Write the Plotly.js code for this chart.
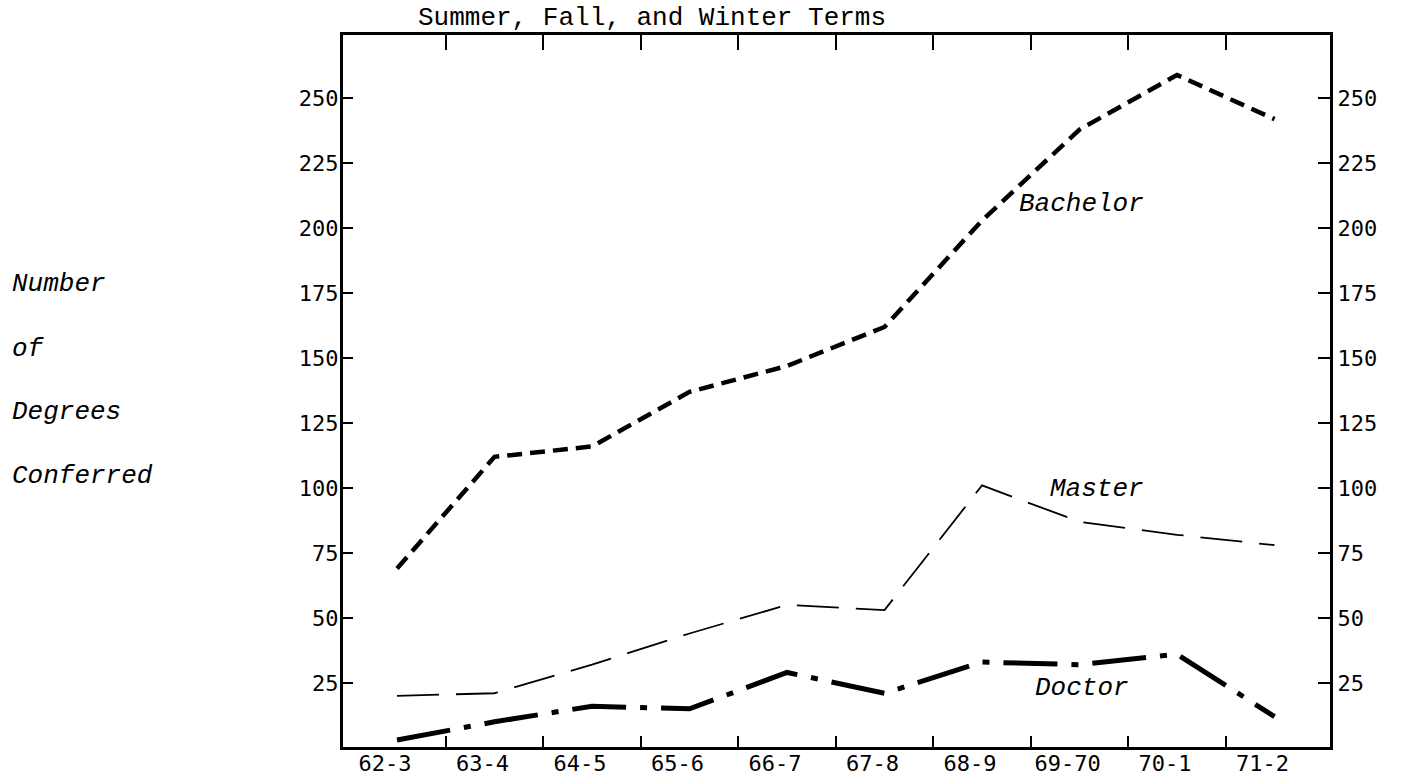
<!DOCTYPE html>
<html><head><meta charset="utf-8">
<script src="https://cdn.plot.ly/plotly-3.0.1.min.js"></script>
<style>html,body{margin:0;padding:0;background:#fff;} #chart{width:1404px;height:779px;}</style>
</head><body><div id="chart"></div>
<script>
// ---- data ----
const categories = ['62-3','63-4','64-5','65-6','66-7','67-8','68-9','69-70','70-1','71-2'];
const bachelor = [69, 112, 116, 137, 147, 162, 203, 238, 259, 242];
const master   = [20, 21, 32, 44, 55, 53, 101, 87, 82, 78];
const doctor   = [3, 10, 16, 15, 29, 21, 33, 32, 36, 12];
const yTickValues = [25, 50, 75, 100, 125, 150, 175, 200, 225, 250];
const seriesNames = ['Bachelor', 'Master', 'Doctor'];
const chartTitle = 'Summer, Fall, and Winter Terms';
const yLabelLines = ['Number', 'of', 'Degrees', 'Conferred'];

// ---- layout ----
const W = 1404, H = 779;
const M = {l: 343, r: 74, t: 35, b: 32};
const xIdx = categories.map((c, i) => i);
const boundaries = categories.slice(1).map((c, i) => i + 0.5);
const xRange = [-0.554, 9.569];
const yRange = [0.3, 274.4];
const mono = 'Liberation Mono, Courier New, monospace';
const tickFont = {family: 'DejaVu Sans Mono, monospace', size: 22, color: '#000'};
const labelFont = {family: mono, size: 26, color: '#000', style: 'italic'};

// Each axis pair shares identical ranges, so the series are placed on
// different (overlaid) axes only so every axis gets drawn with its ticks.
const traces = [
  {x: xIdx, y: bachelor, name: seriesNames[0], mode: 'lines', xaxis: 'x', yaxis: 'y',
   line: {color: '#000', width: 4.5, dash: '15px,8px'}},
  {x: xIdx, y: master, name: seriesNames[1], mode: 'lines', xaxis: 'x2', yaxis: 'y',
   line: {color: '#000', width: 1.8, dash: '42px,17px'}},
  {x: xIdx, y: doctor, name: seriesNames[2], mode: 'lines', xaxis: 'x', yaxis: 'y2',
   line: {color: '#000', width: 5, dash: '54px,14px,7px,14px'}}
];

const pw = W - M.l - M.r, ph = H - M.t - M.b;
const px2paperX = px => (px - M.l) / pw;
const px2paperY = py => (H - M.b - py) / ph;

const annotations = [
  {text: seriesNames[0], x: 6.36, y: 209.5, xref: 'x', yref: 'y', xanchor: 'left', yanchor: 'middle'},
  {text: seriesNames[1], x: 6.68, y: 99.5, xref: 'x', yref: 'y', xanchor: 'left', yanchor: 'middle'},
  {text: seriesNames[2], x: 6.52, y: 23, xref: 'x', yref: 'y', xanchor: 'left', yanchor: 'middle'}
].map(a => Object.assign(a, {showarrow: false, font: labelFont}));

const yLabelCenters = [284, 349, 412, 476];
yLabelLines.forEach((t, i) => annotations.push({
  text: t, xref: 'paper', yref: 'paper', x: px2paperX(10), y: px2paperY(yLabelCenters[i]),
  xanchor: 'left', yanchor: 'middle', showarrow: false, font: labelFont
}));

const layout = {
  width: W, height: H, margin: M, showlegend: false,
  paper_bgcolor: '#fff', plot_bgcolor: '#fff',
  title: {text: chartTitle, xref: 'container', yref: 'container',
          x: 418 / W, xanchor: 'left', y: 1 - 16 / H, yanchor: 'middle',
          font: {family: mono, size: 26, color: '#000'}},
  xaxis: {range: xRange, tickmode: 'array', tickvals: xIdx, ticktext: categories,
          ticks: '', showgrid: false, zeroline: false, showline: true, mirror: true,
          linecolor: '#000', linewidth: 3, tickfont: tickFont, ticklabelshift: -12,
          ticklabelstandoff: -5,
          minor: {tickmode: 'array', tickvals: boundaries, ticks: 'inside', ticklen: 11,
                  tickwidth: 2, tickcolor: '#000', showgrid: false}},
  xaxis2: {range: xRange, overlaying: 'x', side: 'top', anchor: 'y', tickmode: 'array',
           tickvals: boundaries, ticks: 'inside', ticklen: 15, tickwidth: 2, tickcolor: '#000',
           showticklabels: false, showgrid: false, zeroline: false, showline: false},
  yaxis: {range: yRange, tickmode: 'array', tickvals: yTickValues, ticks: 'inside',
          ticklen: 10, tickwidth: 2, tickcolor: '#000', showgrid: false, zeroline: false,
          showline: true, linecolor: '#000', linewidth: 3, mirror: false, tickfont: tickFont,
          ticklabelstandoff: -3},
  yaxis2: {range: yRange, overlaying: 'y', side: 'right', anchor: 'x', tickmode: 'array',
           tickvals: yTickValues, ticks: 'inside', ticklen: 12, tickwidth: 2, tickcolor: '#000',
           showgrid: false, zeroline: false, showline: true, linecolor: '#000', linewidth: 3,
           tickfont: tickFont, ticklabelstandoff: 0},
  annotations: annotations
};

Plotly.newPlot('chart', traces, layout, {displayModeBar: false, staticPlot: true});
</script>
</body></html>
